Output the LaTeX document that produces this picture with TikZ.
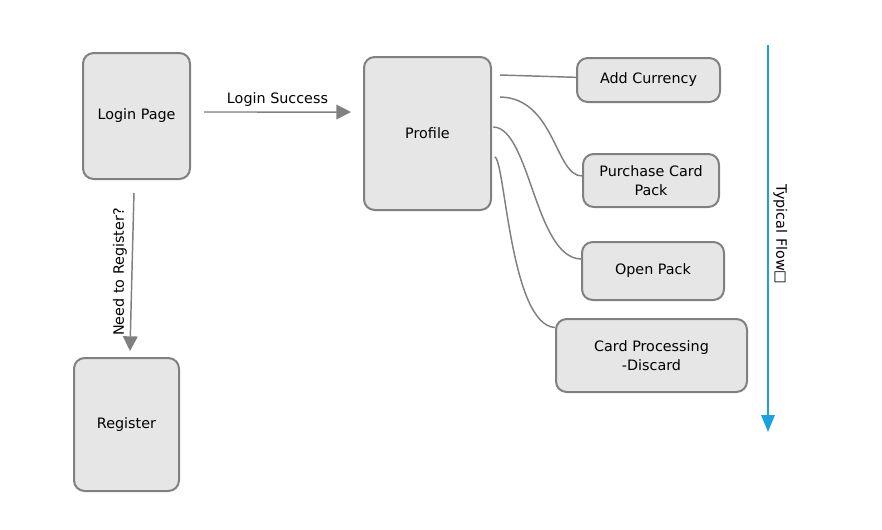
\documentclass[tikz,border=0pt]{standalone}
\usepackage{fontspec}
\setmainfont{DejaVu Sans}
\usetikzlibrary{arrows.meta}
\definecolor{boxfill}{HTML}{E6E6E6}
\definecolor{boxline}{HTML}{808080}
\definecolor{flowblue}{HTML}{1BA1E2}
\tikzset{
  page/.style={draw=boxline,fill=boxfill,line width=1.5bp,rounded corners=8bp,align=center,inner sep=0pt},
  link/.style={draw=boxline,line width=1.1bp},
}
\begin{document}
\begin{tikzpicture}[x=0.75bp,y=-0.75bp,>={Triangle[length=11bp,width=11bp]},line join=bevel,font=\fontsize{10.8}{14.2}\selectfont]
\useasboundingbox (0,0) rectangle (882,530);
%%
\node (login) at (136.5,116) [page,minimum width=80.25bp,minimum height=94.5bp] {Login Page};
  \node (register) at (126.5,424.5) [page,minimum width=78.75bp,minimum height=99.75bp] {Register};
  \node (profile) at (427.5,133.5) [page,minimum width=95.25bp,minimum height=114.75bp] {Profile};
  \node (addcur) at (648.5,80) [page,minimum width=107.25bp,minimum height=33bp] {Add Currency};
  \node (purchase) at (651,180.5) [page,minimum width=102bp,minimum height=39.75bp] {Purchase Card\\Pack};
  \node (openpack) at (653,271) [page,minimum width=106.5bp,minimum height=43.5bp] {Open Pack};
  \node (cardproc) at (651.5,355.5) [page,minimum width=143.25bp,minimum height=54.75bp] {Card Processing\\-Discard};
  \coordinate (flowtop) at (768,45);
  \coordinate (flowbot) at (768,432);
%
  \draw [link,->,draw=boxline,fill=boxline] ([xshift=9.75bp,yshift=3bp]login.east) -- ([xshift=-9bp,yshift=16.1bp]profile.west) node [midway,above,fill=none] {Login Success};
  \draw [link,->,draw=boxline,fill=boxline] ([xshift=-1.9bp,yshift=-9.75bp]login.south) -- ([xshift=2.6bp,yshift=4.5bp]register.north) node [midway,rotate=90,above,fill=none] {Need to Register?};
  \draw [link] ([xshift=6bp,yshift=-14.25bp]profile.north east) -- ([yshift=2bp]addcur.west);
  \draw [link] ([xshift=6bp,yshift=-30.75bp]profile.north east) ..controls (555,98) and (555,176) .. ([yshift=3.4bp]purchase.west);
  \draw [link] ([xshift=1bp,yshift=-53.25bp]profile.north east) ..controls (530,128) and (535,258) .. ([yshift=9bp]openpack.west);
  \draw [link] ([xshift=2bp,yshift=-75.75bp]profile.north east) ..controls (505,158) and (510,325) .. ([yshift=21bp]cardproc.west);
  \draw [flowblue,line width=1.5bp,-{Triangle[length=12.75bp,width=10bp]}] (flowtop) -- (flowbot) node [pos=0.49,rotate=-90,above,text=black] {Typical Flow□};
%
\end{tikzpicture}
\end{document}
